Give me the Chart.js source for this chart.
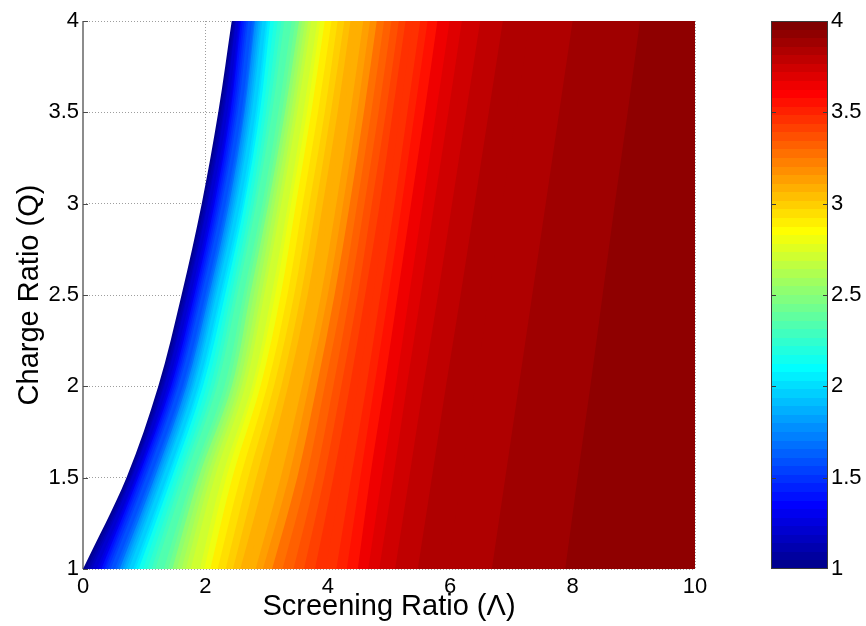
<!DOCTYPE html>
<html>
<head>
<meta charset="utf-8">
<script src="https://cdn.jsdelivr.net/npm/chart.js@4.4.1/dist/chart.umd.min.js"></script>
<style>
  html, body { margin: 0; padding: 0; background: #ffffff; }
  #wrap { position: relative; width: 866px; height: 626px; }
  #wrap canvas { position: absolute; left: 0; top: 0; }
</style>
</head>
<body>
<div id="wrap">
  <canvas id="main" width="866" height="626"></canvas>
  <canvas id="cbar" width="866" height="626"></canvas>
</div>
<script>
// ---------------- DATA ----------------
// Rows of charge ratio Q at which the contour positions were read
const qRows = [1, 1.5, 2, 2.5, 3, 3.5, 4];

// Contour levels (value of the plotted quantity), one per colour step
const contourLevels = [
  1.000, 1.047, 1.094, 1.141, 1.188, 1.234, 1.281, 1.328, 1.375, 1.422, 1.469, 1.516, 1.563, 1.609, 1.656, 1.703,
  1.750, 1.797, 1.844, 1.891, 1.938, 1.984, 2.031, 2.078, 2.125, 2.172, 2.219, 2.266, 2.313, 2.359, 2.406, 2.453,
  2.500, 2.547, 2.594, 2.641, 2.688, 2.734, 2.781, 2.828, 2.875, 2.922, 2.969, 3.016, 3.063, 3.109, 3.156, 3.203,
  3.250, 3.297, 3.344, 3.391, 3.438, 3.484, 3.531, 3.578, 3.625, 3.672, 3.719, 3.766, 3.813, 3.859, 3.906, 3.953
];

// Screening ratio (Lambda) where each contour level crosses each Q row
const lambdaAtQ1 = [0, 0.04, 0.07, 0.11, 0.15, 0.19, 0.22, 0.26, 0.30, 0.34, 0.37, 0.41, 0.45, 0.49, 0.52, 0.56,
  0.60, 0.64, 0.67, 0.71, 0.75, 0.79, 0.82, 0.86, 0.91, 0.98, 1.05, 1.12, 1.18, 1.25, 1.32, 1.39,
  1.46, 1.53, 1.61, 1.68, 1.76, 1.83, 1.91, 1.98, 2.08, 2.20, 2.33, 2.45, 2.57, 2.69, 2.82, 2.94,
  3.09, 3.26, 3.44, 3.61, 3.79, 3.96, 4.14, 4.31, 4.49, 4.66, 4.84, 5.10, 5.47, 5.96, 6.68, 7.88];
const lambdaAtQ1_5 = [0.71, 0.73, 0.76, 0.78, 0.80, 0.82, 0.85, 0.87, 0.90, 0.93, 0.96, 1.00, 1.03, 1.07, 1.10, 1.13,
  1.17, 1.20, 1.23, 1.27, 1.30, 1.34, 1.37, 1.40, 1.45, 1.50, 1.56, 1.61, 1.67, 1.72, 1.78, 1.83,
  1.89, 1.96, 2.02, 2.08, 2.15, 2.21, 2.27, 2.34, 2.44, 2.57, 2.70, 2.83, 2.97, 3.10, 3.23, 3.36,
  3.50, 3.65, 3.80, 3.94, 4.09, 4.23, 4.38, 4.53, 4.69, 4.88, 5.07, 5.33, 5.70, 6.18, 6.90, 8.08];
const lambdaAtQ2 = [1.23, 1.26, 1.28, 1.31, 1.33, 1.36, 1.38, 1.41, 1.44, 1.47, 1.50, 1.53, 1.56, 1.60, 1.63, 1.66,
  1.69, 1.72, 1.76, 1.79, 1.82, 1.85, 1.88, 1.91, 1.96, 2.02, 2.08, 2.14, 2.19, 2.25, 2.31, 2.37,
  2.43, 2.48, 2.54, 2.59, 2.65, 2.70, 2.76, 2.81, 2.90, 3.01, 3.12, 3.24, 3.35, 3.47, 3.58, 3.69,
  3.82, 3.95, 4.09, 4.22, 4.36, 4.49, 4.63, 4.76, 4.92, 5.11, 5.29, 5.56, 5.93, 6.41, 7.12, 8.29];
const lambdaAtQ2_5 = [1.61, 1.64, 1.66, 1.69, 1.71, 1.74, 1.76, 1.79, 1.82, 1.85, 1.88, 1.91, 1.94, 1.97, 2.00, 2.03,
  2.06, 2.09, 2.12, 2.15, 2.18, 2.21, 2.24, 2.27, 2.32, 2.37, 2.42, 2.47, 2.52, 2.57, 2.62, 2.67,
  2.73, 2.79, 2.85, 2.91, 2.96, 3.02, 3.08, 3.14, 3.23, 3.34, 3.45, 3.56, 3.67, 3.78, 3.89, 4.00,
  4.11, 4.24, 4.36, 4.49, 4.61, 4.74, 4.86, 4.99, 5.14, 5.33, 5.52, 5.80, 6.17, 6.63, 7.34, 8.49];
const lambdaAtQ3 = [1.94, 1.97, 1.99, 2.02, 2.04, 2.07, 2.09, 2.12, 2.15, 2.18, 2.21, 2.24, 2.27, 2.30, 2.33, 2.36,
  2.39, 2.42, 2.45, 2.48, 2.51, 2.54, 2.57, 2.61, 2.64, 2.69, 2.74, 2.79, 2.83, 2.88, 2.93, 2.98,
  3.03, 3.08, 3.13, 3.19, 3.24, 3.30, 3.35, 3.40, 3.48, 3.59, 3.70, 3.81, 3.92, 4.03, 4.14, 4.25,
  4.36, 4.48, 4.60, 4.72, 4.85, 4.97, 5.09, 5.21, 5.36, 5.55, 5.74, 6.03, 6.40, 6.85, 7.56, 8.69];
const lambdaAtQ3_5 = [2.21, 2.24, 2.26, 2.29, 2.31, 2.34, 2.36, 2.39, 2.41, 2.44, 2.47, 2.50, 2.53, 2.56, 2.59, 2.62,
  2.64, 2.67, 2.70, 2.73, 2.76, 2.79, 2.82, 2.85, 2.89, 2.94, 2.99, 3.04, 3.09, 3.14, 3.19, 3.25,
  3.30, 3.35, 3.40, 3.45, 3.50, 3.55, 3.60, 3.66, 3.73, 3.84, 3.95, 4.05, 4.16, 4.26, 4.37, 4.48,
  4.59, 4.71, 4.83, 4.95, 5.06, 5.18, 5.30, 5.42, 5.58, 5.77, 5.97, 6.26, 6.63, 7.08, 7.78, 8.90];
const lambdaAtQ4 = [2.43, 2.45, 2.47, 2.49, 2.50, 2.52, 2.54, 2.56, 2.58, 2.61, 2.64, 2.67, 2.70, 2.73, 2.76, 2.79,
  2.81, 2.84, 2.87, 2.90, 2.93, 2.96, 2.99, 3.02, 3.06, 3.12, 3.18, 3.24, 3.29, 3.35, 3.41, 3.47,
  3.53, 3.58, 3.63, 3.68, 3.73, 3.78, 3.83, 3.88, 3.95, 4.06, 4.16, 4.27, 4.37, 4.48, 4.58, 4.69,
  4.80, 4.92, 5.04, 5.16, 5.27, 5.39, 5.51, 5.63, 5.79, 5.99, 6.19, 6.49, 6.86, 7.30, 8.00, 9.10];

// Axis ranges and tick steps
const xRange = [0, 10];
const xTickStep = 2;
const yRange = [1, 4];
const yTickStep = 0.5;
const colorRange = [1, 4];     // colour limits shown on the colour bar
const colorbarTickStep = 0.5;
const xTitle = 'Screening Ratio (\u039B)';
const yTitle = 'Charge Ratio (Q)';

// ---------------- STYLE ----------------
const FONT = 'Liberation Sans, Arial, Helvetica, sans-serif';
const TICK_FONT = { family: FONT, size: 22 };
const TITLE_FONT = { family: FONT, size: 29 };
const plainNumber = v => String(Number(v));
const NCOL = 64;
function jet(j) {           // MATLAB-like jet(64), 0-based index
  const i = j + 1;
  const r = i <= 24 ? 0 : i <= 40 ? (i - 24) / 16 : i <= 56 ? 1 : 1 - (i - 56) / 16;
  const g = i <= 8 ? 0 : i <= 24 ? (i - 8) / 16 : i <= 39 ? 1 : i <= 55 ? (16 - (i - 40)) / 16 : 0;
  const b = i <= 8 ? (i + 8) / 16 : i <= 23 ? 1 : i <= 39 ? (16 - (i - 24)) / 16 : 0;
  return 'rgb(' + Math.round(r * 255) + ',' + Math.round(g * 255) + ',' + Math.round(b * 255) + ')';
}
function colourForLevel(v) {
  let j = Math.floor((v - colorRange[0]) / (colorRange[1] - colorRange[0]) * NCOL + 1e-6);
  return jet(Math.max(0, Math.min(NCOL - 1, j)));
}

// ---------------- MAIN CONTOUR CHART ----------------
const rowsByQ = [lambdaAtQ1, lambdaAtQ1_5, lambdaAtQ2, lambdaAtQ2_5, lambdaAtQ3, lambdaAtQ3_5, lambdaAtQ4];
const datasets = contourLevels.map((lvl, k) => ({
  label: 'level ' + lvl,
  data: qRows.map((q, r) => ({ x: rowsByQ[r][k], y: q })),
  borderWidth: 0,
  pointRadius: 0,
  pointHoverRadius: 0,
  cubicInterpolationMode: 'monotone',
  backgroundColor: colourForLevel(lvl),
  fill: { value: xRange[1] },
  order: contourLevels.length - k
}));

const gridColor = 'rgba(0,0,0,0.38)';

const axisDecor = {
  id: 'axisDecor',
  beforeDatasetsDraw(chart) {
    const { ctx, chartArea: a, scales } = chart;
    const y = scales.y;
    ctx.save();
    ctx.strokeStyle = '#8c8c8c';
    ctx.lineWidth = 2;
    ctx.beginPath();
    ctx.moveTo(a.left, a.top);
    ctx.lineTo(a.left, a.bottom);
    ctx.stroke();
    ctx.strokeStyle = '#4a4a4a';
    ctx.lineWidth = 1;
    y.ticks.forEach(t => {
      const py = Math.round(y.getPixelForValue(t.value)) + 0.5;
      ctx.beginPath();
      ctx.moveTo(a.left, py);
      ctx.lineTo(a.left + 5, py);
      ctx.stroke();
    });
    ctx.restore();
  }
};

new Chart(document.getElementById('main'), {
  type: 'line',
  data: { datasets },
  options: {
    responsive: false,
    animation: false,
    events: [],
    indexAxis: 'y',
    layout: { padding: { left: 0, top: 21, right: 171, bottom: 0 } },
    plugins: { legend: { display: false }, tooltip: { enabled: false } },
    scales: {
      x: {
        type: 'linear', position: 'bottom', min: xRange[0], max: xRange[1],
        ticks: { stepSize: xTickStep, padding: 5, color: '#000', maxRotation: 0,
                 font: TICK_FONT, callback: plainNumber },
        grid: { color: gridColor, lineWidth: 1, drawTicks: false },
        border: { display: false, dash: [1, 2] },
        title: { display: true, text: xTitle, color: '#000',
                 font: TITLE_FONT, padding: { top: 0, bottom: 2 } },
        afterFit: s => { s.height = 57; }
      },
      y: {
        type: 'linear', position: 'left', min: yRange[0], max: yRange[1],
        ticks: { stepSize: yTickStep, padding: 4, color: '#000',
                 font: TICK_FONT, callback: plainNumber },
        grid: { color: gridColor, lineWidth: 1, drawTicks: false },
        border: { display: false, dash: [1, 2] },
        title: { display: true, text: yTitle, color: '#000',
                 font: TITLE_FONT, padding: { top: 13, bottom: 0 } },
        afterFit: s => { s.width = 83; }
      }
    }
  },
  plugins: [axisDecor]
});

// ---------------- COLOUR BAR ----------------
function colorbarFill(c) {
  const a = c.chart.chartArea;
  if (!a) return jet(32);
  const g = c.chart.ctx.createLinearGradient(0, a.bottom, 0, a.top);
  for (let j = 0; j < NCOL; j++) {
    g.addColorStop(j / NCOL, jet(j));
    g.addColorStop((j + 1) / NCOL - 1e-4, jet(j));
  }
  return g;
}

const cbDecor = {
  id: 'cbDecor',
  afterDatasetsDraw(chart) {
    const { ctx, chartArea: a, scales } = chart;
    const y = scales.y;
    ctx.save();
    ctx.strokeStyle = '#3a3a3a';
    ctx.lineWidth = 1;
    ctx.strokeRect(Math.round(a.left) + 0.5, Math.round(a.top) + 0.5,
                   Math.round(a.right - a.left) - 1, Math.round(a.bottom - a.top) - 1);
    y.ticks.forEach(t => {
      if (t.value <= colorRange[0] || t.value >= colorRange[1]) return;
      const py = Math.round(y.getPixelForValue(t.value)) + 0.5;
      ctx.beginPath();
      ctx.moveTo(a.left, py); ctx.lineTo(a.left + 5, py);
      ctx.moveTo(a.right, py); ctx.lineTo(a.right - 5, py);
      ctx.stroke();
    });
    ctx.restore();
  }
};

new Chart(document.getElementById('cbar'), {
  type: 'bar',
  data: {
    labels: [''],
    datasets: [{ data: [colorRange], backgroundColor: colorbarFill, borderWidth: 0,
                 barPercentage: 1, categoryPercentage: 1 }]
  },
  options: {
    responsive: false,
    animation: false,
    events: [],
    layout: { padding: { left: 771, top: 21, right: 0, bottom: 57 } },
    plugins: { legend: { display: false }, tooltip: { enabled: false } },
    scales: {
      x: { display: false },
      y: {
        position: 'right', min: colorRange[0], max: colorRange[1],
        ticks: { stepSize: colorbarTickStep, padding: 3, color: '#000',
                 font: TICK_FONT, callback: plainNumber },
        grid: { display: false, drawTicks: false },
        border: { display: false },
        afterFit: s => { s.width = 38; }
      }
    }
  },
  plugins: [cbDecor]
});
</script>
</body>
</html>
